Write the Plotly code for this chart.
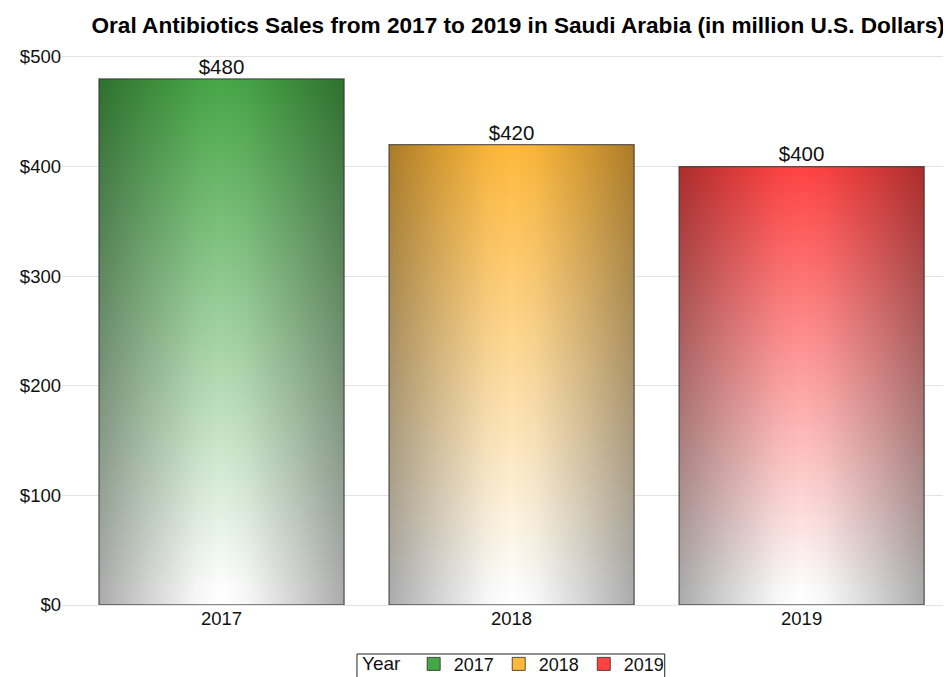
import plotly.graph_objects as go

years = ["2017", "2018", "2019"]
sales = [480, 420, 400]
labels = ["$480", "$420", "$400"]
colors = ["rgb(70,166,70)", "rgb(255,184,58)", "rgb(255,66,66)"]
y_tickvals = [0, 100, 200, 300, 400, 500]
y_ticktext = ["$0", "$100", "$200", "$300", "$400", "$500"]

HALF = 0.4225
FONT = "Liberation Sans, Arial, sans-serif"

fig = go.Figure()

for i, (yr, v, c) in enumerate(zip(years, sales, colors)):
    xs = [i - HALF, i + HALF, i + HALF, i - HALF, i - HALF]
    ys = [0, 0, v, v, 0]
    # vertical gradient: white bottom -> colour top
    fig.add_trace(go.Scatter(
        x=xs, y=ys, mode="lines", fill="toself",
        line=dict(width=0, color="rgba(0,0,0,0)"),
        fillgradient=dict(type="vertical",
                          colorscale=[[0, "rgb(255,255,255)"], [0.04, "rgb(252,253,252)"], [1, c]]),
        showlegend=False, hoverinfo="skip"))
    # horizontal darkening toward edges
    fig.add_trace(go.Scatter(
        x=xs, y=ys, mode="lines", fill="toself",
        line=dict(width=1.3, color="rgba(50,50,50,0.75)"),
        fillgradient=dict(type="horizontal",
                          colorscale=[[0, "rgba(0,0,0,0.33)"], [0.2, "rgba(0,0,0,0.17)"],
                                      [0.4, "rgba(0,0,0,0.03)"], [0.5, "rgba(0,0,0,0)"],
                                      [0.6, "rgba(0,0,0,0.03)"], [0.8, "rgba(0,0,0,0.17)"],
                                      [1, "rgba(0,0,0,0.33)"]]),
        showlegend=False, hoverinfo="text", text=[f"{yr}: {labels[i]}"] * 5))
    # legend swatch
    fig.add_trace(go.Scatter(
        x=[None], y=[None], mode="markers", name=yr,
        marker=dict(symbol="square", size=13, color=c,
                    line=dict(width=1, color="rgba(40,40,40,0.8)"))))

fig.add_trace(go.Scatter(
    x=list(range(len(years))), y=sales, mode="text", text=labels,
    textposition="top center", textfont=dict(size=20.5, color="#111", family=FONT),
    showlegend=False, hoverinfo="skip"))

# the page body has an 8px margin, so the figure is sized to fill the rest of the window
fig.update_layout(
    width=943, height=669,
    margin=dict(l=54, r=0, t=32, b=72, autoexpand=False),
    paper_bgcolor="white", plot_bgcolor="white",
    font=dict(family=FONT, color="#111", size=18.5),
    title=dict(text="<b>Oral Antibiotics Sales from 2017 to 2019 in Saudi Arabia (in million U.S. Dollars)</b>",
               x=0.541, xanchor="center", y=0.975, yanchor="middle",
               font=dict(size=22.6, color="#000", family=FONT)),
    xaxis=dict(range=[-0.55, 2.515], tickvals=[0, 1, 2], ticktext=years,
               showgrid=False, zeroline=False, showline=False,
               ticks="", tickfont=dict(size=18.5, color="#111"), fixedrange=True),
    yaxis=dict(range=[0, 515.5], tickvals=y_tickvals, ticktext=y_ticktext,
               showgrid=True, gridcolor="#e3e3e3", gridwidth=1,
               zeroline=True, zerolinecolor="#e3e3e3", zerolinewidth=1,
               showline=False, ticks="", tickfont=dict(size=18.5, color="#111"),
               fixedrange=True),
    legend=dict(orientation="h", x=0.509, xanchor="center", y=-0.072, yanchor="top",
                borderwidth=0, bgcolor="rgba(255,255,255,0)",
                font=dict(size=18, color="#111"),
                title=dict(text="Year ", font=dict(size=19, color="#111")),
                itemwidth=30, tracegroupgap=0),
    shapes=[dict(type="rect", xref="paper", yref="paper",
                 x0=0.3318, x1=0.678, y0=-0.0867, y1=-0.16,
                 line=dict(color="#222", width=1), fillcolor="rgba(0,0,0,0)",
                 layer="above")],
)

fig.write_html("out.html")
